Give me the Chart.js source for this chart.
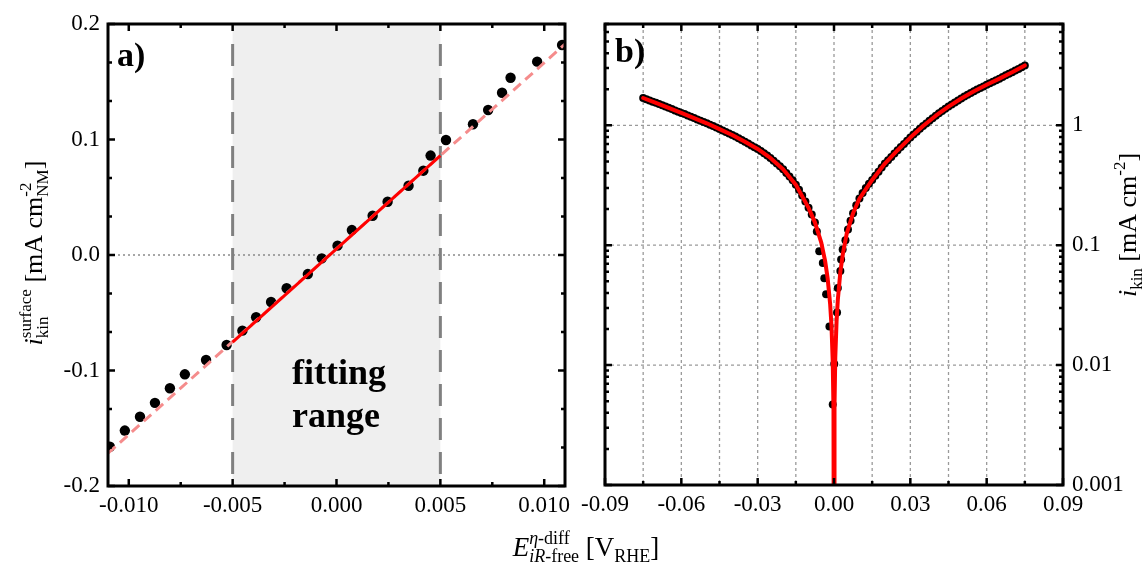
<!DOCTYPE html>
<html lang="en">
<head>
  <meta charset="UTF-8">
  <title>Kinetic current vs overpotential</title>
  <!-- Chart.js -->
  <script src="https://cdn.jsdelivr.net/npm/chart.js@4.4.0/dist/chart.umd.min.js"></script>
  <style>
    body { margin: 0; background: #fff; }
    #wrap { position: relative; width: 1146px; height: 563px; }
    #wrap canvas { position: absolute; left: 0; top: 0; }
  </style>
</head>
<body>
  <div id="wrap">
    <canvas id="chartA" width="1146" height="563"></canvas>
    <canvas id="chartB" width="1146" height="563"></canvas>
  </div>
  <script>
    // ---- panel a) : linear plot around 0 V ----
    const aX = [-0.01091, -0.01019, -0.00946, -0.00874, -0.00802, -0.0073, -0.00628, -0.00529, -0.00453, -0.00387,
                -0.00315, -0.0024, -0.00138, -0.00071, 0.00005, 0.00074, 0.00174, 0.00246, 0.00347, 0.00418,
                0.00453, 0.00527, 0.00657, 0.0073, 0.00797, 0.00838, 0.00966, 0.01086];
    const aY = [-0.166, -0.152, -0.140, -0.128, -0.1154, -0.1033, -0.0909, -0.0779, -0.0655, -0.0539,
                -0.0407, -0.0288, -0.0165, -0.0029, 0.0081, 0.0216, 0.034, 0.0461, 0.06, 0.073,
                0.0861, 0.0996, 0.1132, 0.1255, 0.1405, 0.1535, 0.1674, 0.1818];
    // linear fit, extended (dashed) and inside the fitting range (solid)
    const aFitX = [-0.011, 0.011];
    const aFitY = [-0.1716, 0.1826];
    const aFitInX = [-0.005, 0.005];
    const aFitInY = [-0.0755, 0.086];
    const fitRange = [-0.005, 0.005];
    const aXTicks = [-0.010, -0.005, 0, 0.005, 0.010];
    const aXMinor = [-0.0075, -0.0025, 0.0025, 0.0075];
    const aYTicks = [-0.2, -0.1, 0, 0.1, 0.2];
    const aYMinor = [-0.1667, -0.1333, -0.0667, -0.0333, 0.0333, 0.0667, 0.1333, 0.1667];

    // ---- panel b) : log plot of |i_kin| ----
    const bX = [-0.075, -0.07375, -0.0725, -0.07125, -0.07, -0.06875, -0.0675, -0.06625, -0.065, -0.06375,
                -0.0625, -0.06125, -0.06, -0.05875, -0.0575, -0.05625, -0.055, -0.05375, -0.0525, -0.05125,
                -0.05, -0.04875, -0.0475, -0.04625, -0.045, -0.04375, -0.0425, -0.04125, -0.04, -0.03875,
                -0.0375, -0.03625, -0.035, -0.03375, -0.0325, -0.03125, -0.03, -0.02875, -0.0275, -0.02625,
                -0.025, -0.02375, -0.0225, -0.02125, -0.02, -0.01875, -0.0175, -0.01625, -0.015, -0.01375,
                -0.0125, -0.01125, -0.01, -0.00875, -0.0075, -0.00675,
                -0.0058, -0.0044, -0.0038, -0.0031, -0.0018, -0.0005, 0.0001, 0.0012, 0.0015, 0.0025, 0.0028, 0.0034,
                0.0045, 0.0055, 0.0065, 0.0075, 0.00875, 0.01, 0.01125, 0.0125, 0.01375, 0.015,
                0.01625, 0.0175, 0.01875, 0.02, 0.02125, 0.0225, 0.02375, 0.025, 0.02625, 0.0275,
                0.02875, 0.03, 0.03125, 0.0325, 0.03375, 0.035, 0.03625, 0.0375, 0.03875, 0.04,
                0.04125, 0.0425, 0.04375, 0.045, 0.04625, 0.0475, 0.04875, 0.05, 0.05125, 0.0525,
                0.05375, 0.055, 0.05625, 0.0575, 0.05875, 0.06, 0.06125, 0.0625, 0.06375, 0.065,
                0.06625, 0.0675, 0.06875, 0.07, 0.07125, 0.0725, 0.07375, 0.075];
    const bY = [1.69, 1.65, 1.61, 1.575, 1.54, 1.505, 1.47, 1.435, 1.40, 1.365,
                1.33, 1.30, 1.27, 1.24, 1.21, 1.18, 1.15, 1.12, 1.09, 1.065,
                1.04, 1.012, 0.985, 0.957, 0.93, 0.905, 0.88, 0.855, 0.83, 0.805,
                0.78, 0.755, 0.73, 0.705, 0.68, 0.657, 0.635, 0.61, 0.585, 0.56,
                0.535, 0.507, 0.48, 0.455, 0.43, 0.40, 0.375, 0.348, 0.32, 0.29,
                0.26, 0.232, 0.205, 0.18, 0.155, 0.13,
                0.089, 0.071, 0.053, 0.039, 0.021, 0.0047, 0.0102, 0.0274, 0.044, 0.061, 0.076, 0.092,
                0.11, 0.135, 0.16, 0.185, 0.215, 0.245, 0.272, 0.30, 0.325, 0.35,
                0.38, 0.41, 0.445, 0.48, 0.512, 0.545, 0.582, 0.62, 0.66, 0.70,
                0.745, 0.79, 0.838, 0.885, 0.935, 0.986, 1.038, 1.09, 1.146, 1.202,
                1.259, 1.315, 1.374, 1.432, 1.493, 1.552, 1.614, 1.675, 1.738, 1.80,
                1.862, 1.923, 1.986, 2.05, 2.11, 2.178, 2.24, 2.31, 2.38, 2.45,
                2.53, 2.61, 2.69, 2.77, 2.86, 2.95, 3.05, 3.16];
    const bFitX = [-0.075, -0.07, -0.065, -0.06, -0.055, -0.05, -0.045, -0.04, -0.035, -0.03,
                   -0.025, -0.02, -0.015, -0.01, -0.0075, -0.005, -0.0035, -0.0025, -0.0015, -0.001,
                   -0.0005, -0.0002, 0, 0.0002, 0.0005, 0.001, 0.0015, 0.0025, 0.0035, 0.005,
                   0.0075, 0.01, 0.015, 0.02, 0.025, 0.03, 0.035, 0.04, 0.045, 0.05,
                   0.055, 0.06, 0.065, 0.07, 0.075];
    const bFitY = [1.69, 1.54, 1.40, 1.27, 1.15, 1.04, 0.93, 0.83, 0.73, 0.635,
                   0.535, 0.43, 0.32, 0.205, 0.155, 0.105, 0.074, 0.053, 0.032, 0.0215,
                   0.0108, 0.0043, 0.00001, 0.0046, 0.0115, 0.023, 0.035, 0.06, 0.085, 0.125,
                   0.185, 0.245, 0.35, 0.48, 0.62, 0.79, 0.986, 1.202, 1.432, 1.675,
                   1.923, 2.178, 2.45, 2.77, 3.16];
    const bXTicks = [-0.09, -0.06, -0.03, 0, 0.03, 0.06, 0.09];
    const bXMinor = [-0.075, -0.045, -0.015, 0.015, 0.045, 0.075];
    const bYTicks = [0.001, 0.01, 0.1, 1];
    const bYMinor = [0.002, 0.003, 0.004, 0.005, 0.006, 0.007, 0.008, 0.009,
                     0.02, 0.03, 0.04, 0.05, 0.06, 0.07, 0.08, 0.09,
                     0.2, 0.3, 0.4, 0.5, 0.6, 0.7, 0.8, 0.9,
                     2, 3, 4, 5, 6, 7];

    const SERIF = "'Liberation Serif', 'Times New Roman', serif";
    Chart.defaults.font.family = SERIF;
    Chart.defaults.color = '#000';

    function pts(xs, ys) {
      return xs.map((x, i) => ({x: x, y: ys[i]}));
    }

    // box around the plot with inward ticks on all four sides
    function drawFrame(chart, xMaj, xMin, yMaj, yMin) {
      const ctx = chart.ctx, a = chart.chartArea;
      const sx = chart.scales.x, sy = chart.scales.y;
      ctx.save();
      ctx.strokeStyle = '#000';
      ctx.lineWidth = 2.5;
      ctx.beginPath();
      const vt = (vals, len) => vals.forEach(v => {
        const p = sx.getPixelForValue(v);
        ctx.moveTo(p, a.bottom); ctx.lineTo(p, a.bottom - len);
        ctx.moveTo(p, a.top); ctx.lineTo(p, a.top + len);
      });
      const ht = (vals, len) => vals.forEach(v => {
        const p = sy.getPixelForValue(v);
        ctx.moveTo(a.left, p); ctx.lineTo(a.left + len, p);
        ctx.moveTo(a.right, p); ctx.lineTo(a.right - len, p);
      });
      vt(xMaj, 7); vt(xMin, 4);
      ht(yMaj, 7); ht(yMin, 4);
      ctx.stroke();
      ctx.lineWidth = 3;
      ctx.strokeRect(a.left, a.top, a.right - a.left, a.bottom - a.top);
      ctx.restore();
    }

    // text with sub/superscripts: blocks of rows of pieces [text, size, italic, dy]
    function fontOf(p) {
      return (p[2] ? 'italic ' : '') + p[1] + 'px ' + SERIF;
    }
    function drawRich(ctx, blocks, cx, cy, angle) {
      ctx.save();
      ctx.translate(cx, cy);
      ctx.rotate(angle);
      ctx.fillStyle = '#000';
      ctx.textBaseline = 'alphabetic';
      ctx.textAlign = 'left';
      const rowW = row => row.reduce((w, p) => { ctx.font = fontOf(p); return w + ctx.measureText(p[0]).width; }, 0);
      const widths = blocks.map(b => Math.max(...b.map(rowW)));
      let x = -widths.reduce((s, w) => s + w, 0) / 2;
      blocks.forEach((b, i) => {
        b.forEach(row => {
          let xx = x;
          row.forEach(p => {
            ctx.font = fontOf(p);
            ctx.fillText(p[0], xx, p[3]);
            xx += ctx.measureText(p[0]).width;
          });
        });
        x += widths[i];
      });
      ctx.restore();
    }

    function boldText(ctx, txt, size, x, y) {
      ctx.save();
      ctx.fillStyle = '#000';
      ctx.font = 'bold ' + size + 'px ' + SERIF;
      ctx.textBaseline = 'alphabetic';
      ctx.textAlign = 'left';
      ctx.fillText(txt, x, y);
      ctx.restore();
    }

    const tickFont = {family: SERIF, size: 23};

    // ---------- chart a ----------
    const panelA = {
      id: 'panelA',
      beforeDatasetsDraw(chart) {
        const ctx = chart.ctx, a = chart.chartArea;
        const sx = chart.scales.x, sy = chart.scales.y;
        const l = sx.getPixelForValue(fitRange[0]), r = sx.getPixelForValue(fitRange[1]);
        ctx.save();
        ctx.fillStyle = '#efefef';
        ctx.fillRect(l, a.top, r - l, a.bottom - a.top);
        // zero line
        ctx.strokeStyle = '#8a8a8a';
        ctx.lineWidth = 1.5;
        ctx.setLineDash([2, 3]);
        ctx.beginPath();
        const y0 = sy.getPixelForValue(0);
        ctx.moveTo(a.left, y0); ctx.lineTo(a.right, y0);
        ctx.stroke();
        // fitting range borders
        ctx.strokeStyle = '#808080';
        ctx.lineWidth = 3;
        ctx.setLineDash([22, 12]);
        ctx.beginPath();
        [l, r].forEach(p => { ctx.moveTo(p, a.top + 20); ctx.lineTo(p, a.bottom); });
        ctx.stroke();
        ctx.restore();
        boldText(ctx, 'fitting', 36, 292, 384);
        boldText(ctx, 'range', 36, 292, 427);
      },
      afterDatasetsDraw(chart) {
        const ctx = chart.ctx;
        drawFrame(chart, aXTicks, aXMinor, aYTicks, aYMinor);
        boldText(ctx, 'a)', 34, 117, 66);
        // y title
        drawRich(ctx, [
          [[['i', 26, true, 0]]],
          [[['surface', 17, false, -11]], [['kin', 17, false, 6]]],
          [[[' [mA cm', 26, false, 0]]],
          [[['-2', 17, false, -11]], [['NM', 17, false, 6]]],
          [[[']', 26, false, 0]]]
        ], 42, 253, -Math.PI / 2);
        // shared x title
        drawRich(ctx, [
          [[['E', 27, true, 0]]],
          [[['η', 18, true, -12], ['-diff', 18, false, -12]], [['iR', 18, true, 6], ['-free', 18, false, 6]]],
          [[[' [V', 27, false, 0]]],
          [[['RHE', 18, false, 6]]],
          [[[']', 27, false, 0]]]
        ], 586, 556, 0);
      }
    };

    new Chart(document.getElementById('chartA'), {
      type: 'scatter',
      data: {
        datasets: [
          {
            label: 'fit (solid)',
            data: pts(aFitInX, aFitInY),
            showLine: true,
            borderColor: '#ff0000',
            borderWidth: 3,
            pointRadius: 0,
            order: 0
          },
          {
            label: 'fit (extended)',
            data: pts(aFitX, aFitY),
            showLine: true,
            borderColor: '#f58c8c',
            borderWidth: 3,
            borderDash: [10, 6],
            pointRadius: 0,
            order: 1
          },
          {
            label: 'data',
            data: pts(aX, aY),
            pointRadius: 5.2,
            pointBackgroundColor: '#000',
            pointBorderWidth: 0,
            clip: 0,
            order: 2
          }
        ]
      },
      options: {
        responsive: false,
        animation: false,
        events: [],
        layout: {padding: {left: 0, right: 581, top: 24, bottom: 0}},
        plugins: {legend: {display: false}, tooltip: {enabled: false}},
        scales: {
          x: {
            type: 'linear', min: -0.011, max: 0.011,
            grid: {display: false, drawTicks: false},
            border: {display: false},
            afterBuildTicks: s => { s.ticks = aXTicks.map(v => ({value: v})); },
            afterFit: s => { s.height = 77; },
            ticks: {font: tickFont, padding: 6, autoSkip: false, maxRotation: 0,
                    callback: v => Number(v).toFixed(3)}
          },
          y: {
            type: 'linear', min: -0.2, max: 0.2,
            grid: {display: false, drawTicks: false},
            border: {display: false},
            afterBuildTicks: s => { s.ticks = aYTicks.map(v => ({value: v})); },
            afterFit: s => { s.width = 108; },
            ticks: {font: tickFont, padding: 8, callback: v => Number(v).toFixed(1)}
          }
        }
      },
      plugins: [panelA]
    });

    // ---------- chart b ----------
    const panelB = {
      id: 'panelB',
      beforeDatasetsDraw(chart) {
        const ctx = chart.ctx, a = chart.chartArea;
        const sx = chart.scales.x, sy = chart.scales.y;
        ctx.save();
        ctx.strokeStyle = '#9a9a9a';
        ctx.lineWidth = 1.3;
        ctx.setLineDash([3, 3]);
        ctx.beginPath();
        bXTicks.concat(bXMinor).forEach(v => {
          const p = sx.getPixelForValue(v);
          if (p > a.left + 2 && p < a.right - 2) { ctx.moveTo(p, a.top); ctx.lineTo(p, a.bottom); }
        });
        bYTicks.forEach(v => {
          const p = sy.getPixelForValue(v);
          if (p > a.top + 2 && p < a.bottom - 2) { ctx.moveTo(a.left, p); ctx.lineTo(a.right, p); }
        });
        ctx.stroke();
        ctx.restore();
      },
      afterDatasetsDraw(chart) {
        const ctx = chart.ctx;
        drawFrame(chart, bXTicks, bXMinor, bYTicks, bYMinor);
        boldText(ctx, 'b)', 34, 615, 62);
        drawRich(ctx, [
          [[['i', 26, true, 0]]],
          [[['kin', 17, false, 6]]],
          [[[' [mA cm', 26, false, 0]]],
          [[['-2', 17, false, -11]]],
          [[[']', 26, false, 0]]]
        ], 1136, 225, -Math.PI / 2);
      }
    };

    new Chart(document.getElementById('chartB'), {
      type: 'scatter',
      data: {
        datasets: [
          {
            label: 'fit',
            data: pts(bFitX, bFitY),
            showLine: true,
            borderColor: '#ff0000',
            borderWidth: 4,
            borderCapStyle: 'round',
            borderJoinStyle: 'round',
            pointRadius: 0,
            order: 0
          },
          {
            label: 'data',
            data: pts(bX, bY),
            pointRadius: 4,
            pointBackgroundColor: '#000',
            pointBorderWidth: 0,
            clip: 0,
            order: 1
          }
        ]
      },
      options: {
        responsive: false,
        animation: false,
        events: [],
        layout: {padding: {left: 605, right: 0, top: 24, bottom: 0}},
        plugins: {legend: {display: false}, tooltip: {enabled: false}},
        scales: {
          x: {
            type: 'linear', min: -0.09, max: 0.09,
            grid: {display: false, drawTicks: false},
            border: {display: false},
            afterBuildTicks: s => { s.ticks = bXTicks.map(v => ({value: v})); },
            afterFit: s => { s.height = 78; },
            ticks: {font: tickFont, padding: 6, autoSkip: false, maxRotation: 0,
                    callback: v => Number(v).toFixed(2)}
          },
          y: {
            type: 'logarithmic', position: 'right', min: 0.001, max: 7,
            grid: {display: false, drawTicks: false},
            border: {display: false},
            afterBuildTicks: s => { s.ticks = bYTicks.map(v => ({value: v})); },
            afterFit: s => { s.width = 83; },
            ticks: {font: tickFont, padding: 9, autoSkip: false, callback: v => String(v)}
          }
        }
      },
      plugins: [panelB]
    });
  </script>
</body>
</html>
